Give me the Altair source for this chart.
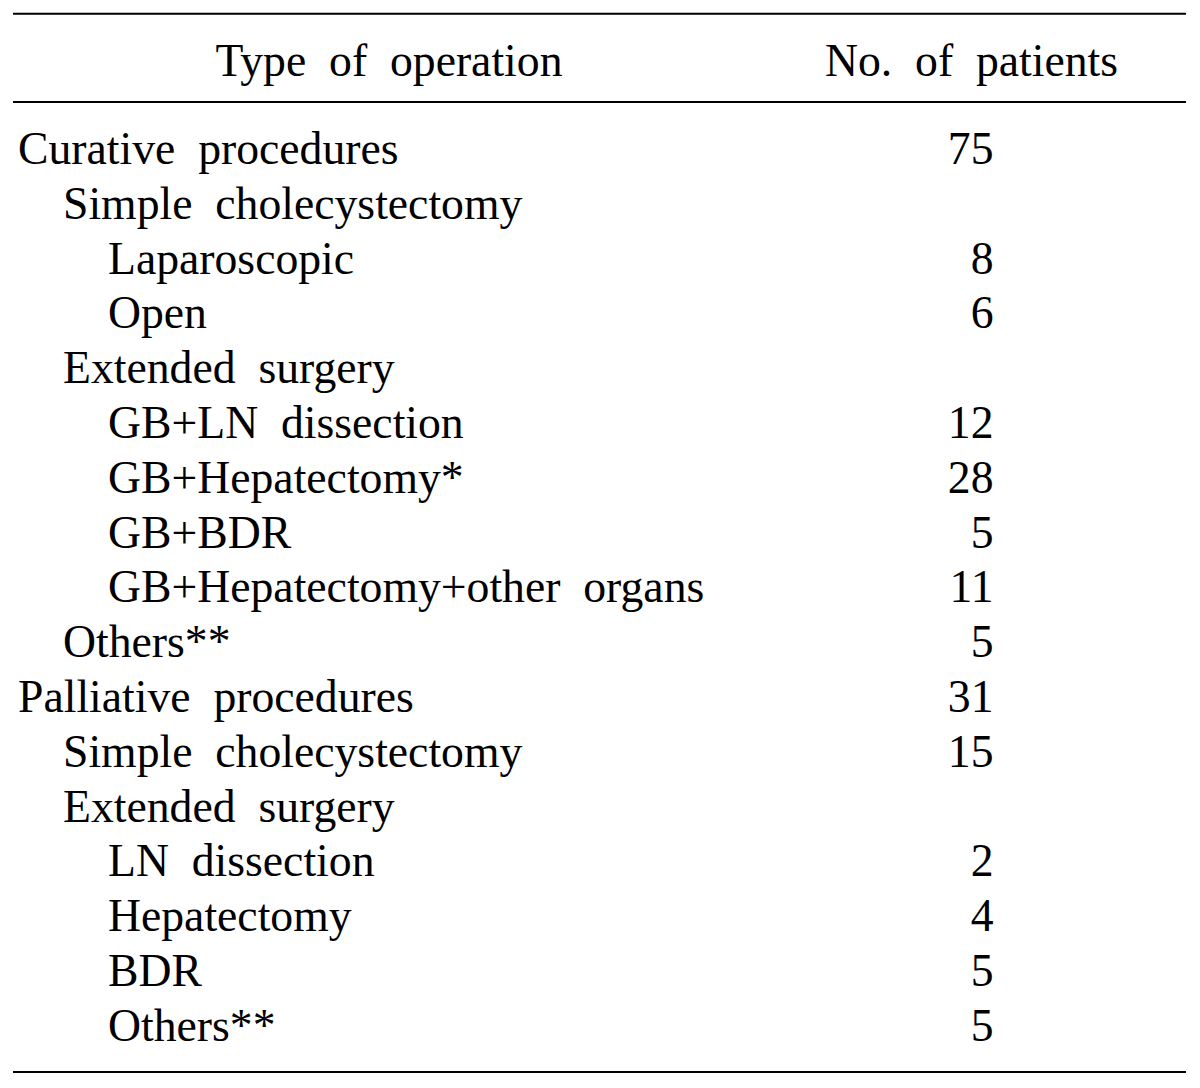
import altair as alt
import pandas as pd

# Table content
labels = [
    "Curative procedures",
    "Simple cholecystectomy",
    "Laparoscopic",
    "Open",
    "Extended surgery",
    "GB+LN dissection",
    "GB+Hepatectomy*",
    "GB+BDR",
    "GB+Hepatectomy+other organs",
    "Others**",
    "Palliative procedures",
    "Simple cholecystectomy",
    "Extended surgery",
    "LN dissection",
    "Hepatectomy",
    "BDR",
    "Others**",
]
levels = [0, 1, 2, 2, 1, 2, 2, 2, 2, 1, 0, 1, 1, 2, 2, 2, 2]
patients = ["75", "", "8", "6", "", "12", "28", "5", "11", "5", "31", "15", "", "2", "4", "5", "5"]
headers = ["Type of operation", "No. of patients"]

def wide(s):
    return s.replace(" ", "\u00a0\u00a0")

df = pd.DataFrame({
    "row": list(range(len(labels))),
    "label": [wide(s) for s in labels],
    "level": levels,
    "patients": patients,
})

FONT = "Liberation Serif"
FS = 45.7
W, H = 1184, 1072

yscale = alt.Scale(domain=[-2.591, 16.971], reverse=True, nice=False, zero=False)
xscale = alt.Scale(domain=[0, 2], range=[10, 100], nice=False, zero=False)

base = alt.Chart(df)

label_layer = base.mark_text(
    align="left", baseline="middle", font=FONT, fontSize=FS, color="black"
).encode(
    x=alt.X("level:Q", scale=xscale, axis=None),
    y=alt.Y("row:Q", scale=yscale, axis=None),
    text="label:N",
)

num_layer = base.mark_text(
    align="right", baseline="middle", font=FONT, fontSize=FS, color="black"
).encode(
    x=alt.value(985.5),
    y=alt.Y("row:Q", scale=yscale, axis=None),
    text="patients:N",
)

hdf = pd.DataFrame({"text": [wide(h) for h in headers], "row": [-1.6, -1.6], "col": [0, 1]})
header_layer = alt.Chart(hdf).mark_text(
    align="center", baseline="middle", font=FONT, fontSize=FS, color="black"
).encode(
    x=alt.X("col:Q", scale=alt.Scale(domain=[0, 1], range=[381, 963.5], nice=False, zero=False), axis=None),
    y=alt.Y("row:Q", scale=yscale, axis=None),
    text="text:N",
)

rdf = pd.DataFrame({"row": [-2.485, -0.876, 16.825]})
rule_layer = alt.Chart(rdf).mark_rule(color="black", strokeWidth=2).encode(
    x=alt.value(5),
    x2=alt.value(1178),
    y=alt.Y("row:Q", scale=yscale, axis=None),
)

chart = alt.layer(rule_layer, header_layer, label_layer, num_layer).resolve_scale(
    x="independent"
).properties(
    width=W, height=H, padding=0, autosize=alt.AutoSizeParams(type="none")
).configure_view(strokeWidth=0, stroke="transparent")

chart.save("out.html", embed_options={"renderer": "svg", "actions": False})
